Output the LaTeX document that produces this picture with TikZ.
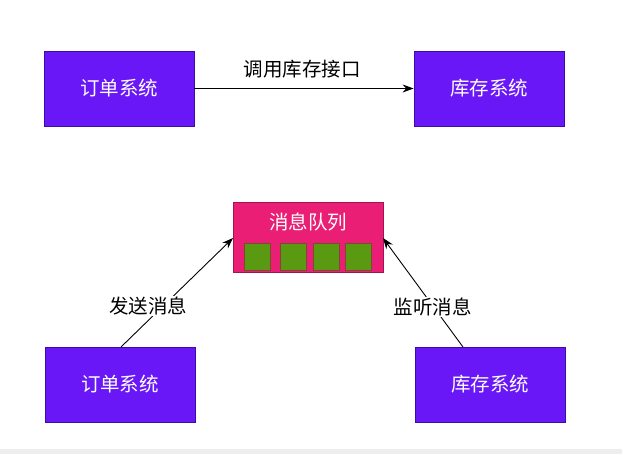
\documentclass[tikz,border=0pt]{standalone}
\usepackage{fontspec}
\newfontfamily\cjk{Noto Sans CJK SC}
\usetikzlibrary{arrows.meta}
\definecolor{sysfill}{HTML}{6A17F7}
\definecolor{sysline}{HTML}{3B0DA8}
\definecolor{mqfill}{HTML}{E91E74}
\definecolor{mqline}{HTML}{A3134F}
\definecolor{slotfill}{HTML}{5A9A12}
\definecolor{slotline}{HTML}{7A4A30}
\definecolor{barfill}{HTML}{EEEEEE}
\begin{document}
\begin{tikzpicture}[x=1pt,y=-1pt,
  cjktext/.style={font=\cjk\fontsize{19.5}{22}\selectfont},
  sysbox/.style={cjktext,draw=sysline,fill=sysfill,line width=0.8pt,minimum width=150pt,minimum height=75pt,inner sep=0pt,text=white},
  mqbox/.style={draw=mqline,fill=mqfill,line width=0.8pt,minimum width=150pt,minimum height=70pt,inner sep=0pt},
  slot/.style={draw=slotline,fill=slotfill,line width=0.6pt,minimum width=26pt,minimum height=27pt,inner sep=0pt},
  lbl/.style={cjktext,text=black,fill=white,inner sep=1pt},
  flow/.style={-{Stealth[length=11pt,width=8pt]},line width=0.9pt,black}]
\useasboundingbox (0,0) rectangle (622,454);
\fill[barfill] (0,449) rectangle (622,454);
% direct call
\node[sysbox] (orderA) at (119,88.5) {订单系统};
\node[sysbox] (stockA) at (489,88.5) {库存系统};
\draw[flow] (orderA) -- node[lbl,above=9pt,xshift=-2pt] (callLbl) {调用库存接口} (stockA);
% via message queue
\node[mqbox] (mq) at (308,237) {};
\node[cjktext,text=white] (mqTitle) at (308,222) {消息队列};
\node[slot] (s1) at (257,256.5) {};
\node[slot] (s2) at (293,256.5) {};
\node[slot] (s3) at (326,256.5) {};
\node[slot] (s4) at (358,256.5) {};
\node[sysbox] (orderB) at (120,384.5) {订单系统};
\node[sysbox] (stockB) at (490,384.5) {库存系统};
\coordinate (orderOut) at (121,347);
\coordinate (stockOut) at (463,347);
\coordinate (mqIn) at (233,238);
\coordinate (mqListen) at (383,238);
\draw[flow] (orderOut) -- node[lbl,pos=0.376,xshift=-15pt] (sendLbl) {发送消息} (mqIn);
\draw[flow] (stockOut) -- node[lbl,pos=0.367,xshift=-1pt] (listenLbl) {监听消息} (mqListen);
\end{tikzpicture}
\end{document}
